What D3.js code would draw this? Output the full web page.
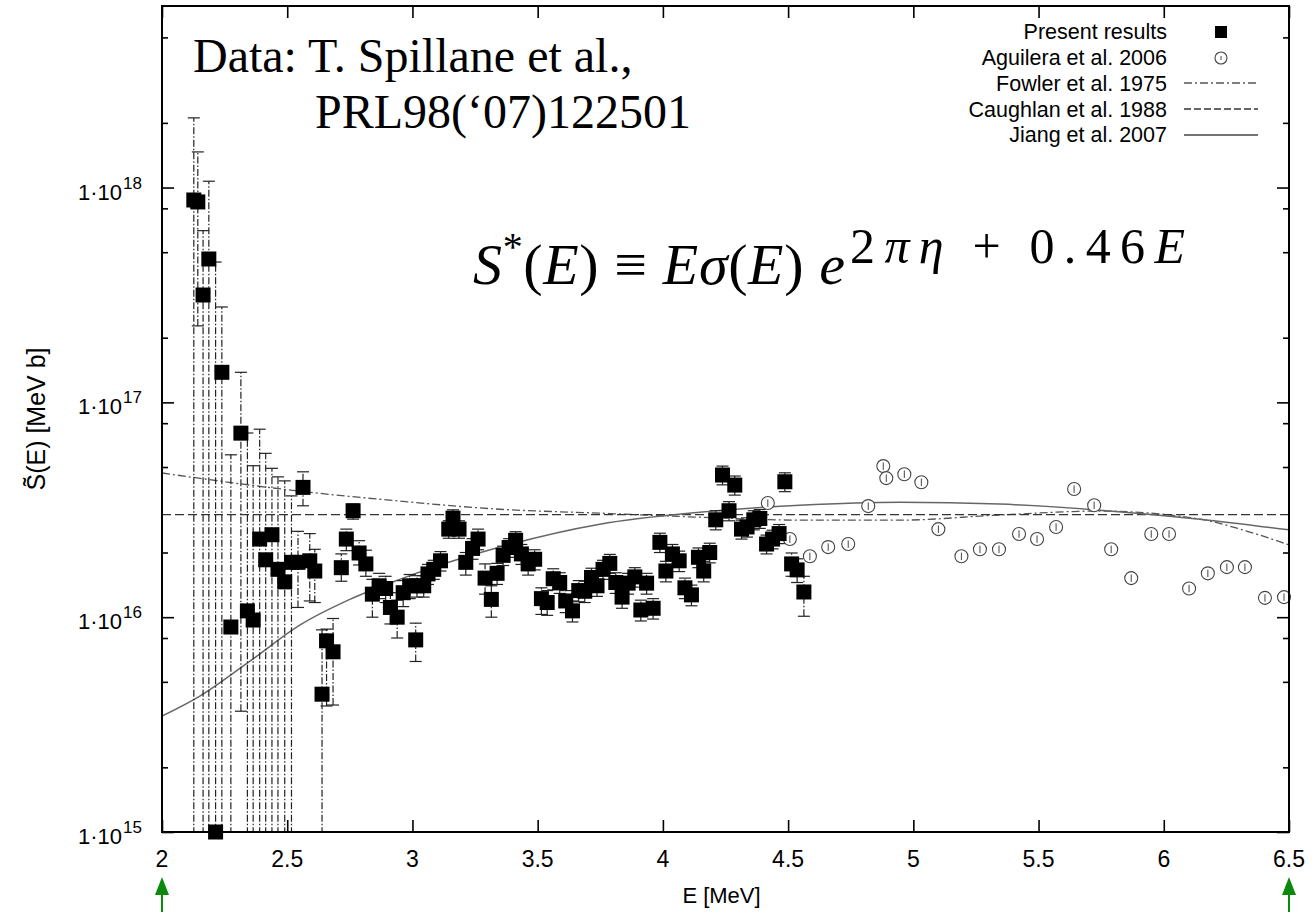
<!DOCTYPE html>
<html><head><meta charset="utf-8">
<script src="https://cdn.jsdelivr.net/npm/d3@7"></script>
<style>body{margin:0;background:#fff} svg{display:block}</style>
</head><body>
<svg id="chart" width="1314" height="912"></svg>
<script>
// ---- data (S values in units of 1e16 MeV b) ----
const presentE = [2.127,2.143,2.164,2.187,2.214,2.239,2.275,2.315,2.341,2.364,2.390,2.414,2.439,2.463,2.490,2.517,2.543,2.563,2.590,2.610,
  2.639,2.657,2.683,2.716,2.736,2.763,2.787,2.814,2.840,2.867,2.893,2.912,2.939,2.963,2.989,3.013,3.018,3.045,3.062,3.085,
  3.112,3.145,3.162,3.186,3.213,3.240,3.262,3.290,3.315,3.338,3.362,3.386,3.412,3.435,3.462,3.488,3.515,3.538,3.562,3.588,
  3.612,3.639,3.664,3.688,3.715,3.737,3.761,3.788,3.812,3.837,3.861,3.888,3.912,3.935,3.961,3.988,4.012,4.038,4.065,4.088,
  4.114,4.142,4.163,4.187,4.211,4.238,4.264,4.287,4.314,4.336,4.363,4.387,4.414,4.438,4.464,4.487,4.514,4.536,4.563];
const presentS = [87.5,85.7,31.6,46.5,0.10,13.8,0.90,7.19,1.07,0.97,2.31,1.85,2.42,1.67,1.46,1.80,1.80,4.02,1.83,1.64,
  0.438,0.776,0.69,1.70,2.31,3.13,1.99,1.77,1.28,1.40,1.36,1.11,1.00,1.30,1.40,0.784,1.40,1.40,1.59,1.67,
  1.83,2.57,2.89,2.57,1.80,2.09,2.31,1.52,1.21,1.60,1.94,2.11,2.28,1.97,1.77,1.86,1.22,1.17,1.51,1.45,
  1.19,1.07,1.33,1.32,1.53,1.40,1.67,1.78,1.45,1.24,1.44,1.54,1.08,1.44,1.10,2.23,1.64,1.97,1.83,1.37,
  1.27,1.90,1.64,2.00,2.84,4.59,3.13,4.12,2.57,2.63,2.84,2.88,2.19,2.31,2.45,4.27,1.77,1.66,1.31];
const presentLo = [0.05,22.7,0.05,0.05,0.05,0.05,0.05,0.365,0.05,0.05,0.05,0.05,0.05,0.05,0.05,0.05,1.11,3.30,1.19,1.17,
  0.05,0.386,0.39,1.47,2.04,2.86,1.75,1.55,1.00,1.22,1.17,0.93,0.80,1.12,1.22,0.622,1.24,1.24,1.42,1.50,
  1.64,2.33,2.62,2.33,1.57,1.86,2.06,1.28,1.00,1.42,1.74,1.90,2.06,1.76,1.57,1.66,1.03,1.02,1.34,1.29,
  1.05,0.95,1.18,1.17,1.37,1.25,1.50,1.60,1.29,1.10,1.28,1.38,0.96,1.28,0.98,2.00,1.46,1.76,1.63,1.22,
  1.13,1.70,1.46,1.79,2.55,4.13,2.81,3.70,2.31,2.36,2.55,2.59,1.97,2.08,2.20,3.84,1.55,1.45,1.01];
const presentHi = [211,146.5,63,107,45,27.8,5.7,13.8,7.2,5.07,7.5,5.79,4.93,4.5,4.31,3.67,2.51,4.75,2.45,2.07,
  0.873,0.88,0.986,1.97,2.57,3.36,2.27,2.05,1.50,1.60,1.55,1.30,1.20,1.48,1.58,0.938,1.56,1.56,1.76,1.84,
  2.02,2.81,3.16,2.81,2.00,2.32,2.57,1.77,1.40,1.78,2.14,2.32,2.50,2.18,1.97,2.06,1.37,1.33,1.68,1.61,
  1.33,1.19,1.48,1.47,1.69,1.55,1.84,1.96,1.61,1.38,1.60,1.70,1.20,1.60,1.22,2.46,1.82,2.18,2.03,1.52,
  1.41,2.10,1.82,2.21,3.13,5.05,3.45,4.54,2.83,2.90,3.13,3.17,2.41,2.54,2.70,4.70,1.99,1.87,1.55];

const aguileraE = [4.419,4.507,4.587,4.660,4.740,4.820,4.880,4.892,4.964,5.032,5.100,5.192,5.266,5.342,5.422,5.494,5.570,5.642,5.722,5.790,
  5.870,5.950,6.021,6.101,6.176,6.252,6.324,6.404,6.480];
const aguileraS = [3.40,2.31,1.92,2.12,2.19,3.29,5.05,4.44,4.63,4.25,2.57,1.92,2.07,2.07,2.44,2.31,2.63,3.95,3.32,2.07,
  1.52,2.44,2.44,1.36,1.60,1.71,1.71,1.23,1.24];

const fowlerE = [2.0,2.55,2.949,3.349,3.748,4.147,4.547,4.946,5.345,5.745,6.144,6.344,6.5];
const fowlerS = [4.69,3.86,3.47,3.18,3.05,2.92,2.83,2.83,2.99,3.12,2.86,2.49,2.17];
const caughlanE = [2.0,6.5];
const caughlanS = [3.0,3.0];
const jiangE = [2.0,2.151,2.351,2.55,2.75,2.949,3.349,3.748,4.147,4.547,4.946,5.345,5.745,6.144,6.5];
const jiangS = [0.346,0.429,0.624,0.918,1.21,1.50,2.12,2.71,3.08,3.32,3.43,3.36,3.15,2.86,2.55];

const xTicks = [2,2.5,3,3.5,4,4.5,5,5.5,6,6.5];
const xTickLabels = ["2","2.5","3","3.5","4","4.5","5","5.5","6","6.5"];
const yMajor = [0.1,1,10,100];
const yExponents = ["15","16","17","18"];
const yMinor = [0.2,0.5,0.8,2,5,8,20,50,80,200,500];
const legendLabels = ["Present results","Aguilera et al. 2006","Fowler et al. 1975","Caughlan et al. 1988","Jiang et al. 2007"];

// ---- drawing ----
const svg = d3.select("#chart");
const L=162, R=1289, T=6, B=832;
const x = d3.scaleLinear().domain([2,6.5]).range([L,R]);
const y = d3.scaleLog().domain([0.1,700]).range([B,T]);
const sans = "'Liberation Sans', Arial, sans-serif";
const serif = "'Liberation Serif', 'Times New Roman', serif";

svg.append("defs").append("clipPath").attr("id","clip")
  .append("rect").attr("x",L).attr("y",T).attr("width",R-L).attr("height",B-T);

// axes ticks (inward)
const gx = svg.append("g").attr("transform",`translate(0,${B})`)
  .call(d3.axisBottom(x).tickValues(xTicks).tickSizeInner(-12).tickSizeOuter(0).tickFormat(""));
const gxt = svg.append("g").attr("transform",`translate(0,${T})`)
  .call(d3.axisTop(x).tickValues(xTicks).tickSizeInner(-12).tickSizeOuter(0).tickFormat(""));
const gy = svg.append("g").attr("transform",`translate(${L},0)`)
  .call(d3.axisLeft(y).tickValues(yMajor).tickSizeInner(-12).tickSizeOuter(0).tickFormat(""));
const gym = svg.append("g").attr("transform",`translate(${L},0)`)
  .call(d3.axisLeft(y).tickValues(yMinor).tickSizeInner(-6).tickSizeOuter(0).tickFormat(""));
const gyr = svg.append("g").attr("transform",`translate(${R},0)`)
  .call(d3.axisRight(y).tickValues(yMajor).tickSizeInner(-12).tickSizeOuter(0).tickFormat(""));
const gyrm = svg.append("g").attr("transform",`translate(${R},0)`)
  .call(d3.axisRight(y).tickValues(yMinor).tickSizeInner(-6).tickSizeOuter(0).tickFormat(""));
[gx,gxt,gy,gym,gyr,gyrm].forEach(g=>{g.select(".domain").remove(); g.selectAll("line").attr("stroke","#000").attr("stroke-width",1.6);});

// tick labels
svg.append("g").selectAll("text").data(xTicks).join("text")
  .attr("x",d=>x(d)).attr("y",867).attr("text-anchor","middle")
  .attr("font-family",sans).attr("font-size",23).text((d,i)=>xTickLabels[i]);
svg.append("g").selectAll("text").data(yMajor).join("text")
  .attr("x",122).attr("y",d=>y(d)+12).attr("text-anchor","end")
  .attr("font-family",sans).attr("font-size",22).text("1·10");
svg.append("g").selectAll("text").data(yMajor).join("text")
  .attr("x",123).attr("y",d=>y(d)+1).attr("text-anchor","start")
  .attr("font-family",sans).attr("font-size",17).text((d,i)=>yExponents[i]);

// axis titles
svg.append("text").attr("x",(L+R)/2 - 4).attr("y",903).attr("text-anchor","middle")
  .attr("font-family",sans).attr("font-size",22).text("E [MeV]");
svg.append("text").attr("transform",`translate(45,${(T+B)/2}) rotate(-90)`).attr("text-anchor","middle")
  .attr("font-family",sans).attr("font-size",25).text("S\u0303(E) [MeV b]");

// curves
const plot = svg.append("g").attr("clip-path","url(#clip)");
const line = d3.line().x(d=>x(d[0])).y(d=>y(d[1])).curve(d3.curveMonotoneX);
plot.append("path").datum(fowlerE.map((e,i)=>[e,fowlerS[i]])).attr("d",line)
  .attr("fill","none").attr("stroke","#555").attr("stroke-width",1.3).attr("stroke-dasharray","8,3,2,3");
plot.append("path").datum(caughlanE.map((e,i)=>[e,caughlanS[i]])).attr("d",line)
  .attr("fill","none").attr("stroke","#333").attr("stroke-width",1.3).attr("stroke-dasharray","9,4");
plot.append("path").datum(jiangE.map((e,i)=>[e,jiangS[i]])).attr("d",line)
  .attr("fill","none").attr("stroke","#666").attr("stroke-width",1.5);

// error bars for present results
const pres = presentE.map((e,i)=>({e,s:presentS[i],lo:presentLo[i],hi:presentHi[i]}));
const eb = plot.append("g").attr("stroke","#222").attr("stroke-width",1.2);
eb.selectAll("line.v").data(pres).join("line").attr("class","v")
  .attr("x1",d=>x(d.e)).attr("x2",d=>x(d.e)).attr("y1",d=>y(d.lo)).attr("y2",d=>y(d.hi))
  .attr("stroke-dasharray","7,2,1.5,2");
eb.selectAll("line.hc").data(pres).join("line").attr("class","hc")
  .attr("x1",d=>x(d.e)-6).attr("x2",d=>x(d.e)+6).attr("y1",d=>y(d.hi)).attr("y2",d=>y(d.hi));
eb.selectAll("line.lc").data(pres.filter(d=>d.lo>0.1)).join("line").attr("class","lc")
  .attr("x1",d=>x(d.e)-6).attr("x2",d=>x(d.e)+6).attr("y1",d=>y(d.lo)).attr("y2",d=>y(d.lo));

// aguilera circles
const ag = aguileraE.map((e,i)=>({e,s:aguileraS[i]}));
const agG = svg.append("g");
agG.selectAll("circle").data(ag).join("circle")
  .attr("cx",d=>x(d.e)).attr("cy",d=>y(d.s)).attr("r",6.5)
  .attr("fill","#fff").attr("stroke","#444").attr("stroke-width",1.1);
agG.selectAll("line").data(ag).join("line")
  .attr("x1",d=>x(d.e)).attr("x2",d=>x(d.e)).attr("y1",d=>y(d.s*0.96)).attr("y2",d=>y(d.s*1.04))
  .attr("stroke","#444").attr("stroke-width",1);

// present squares
svg.append("g").selectAll("rect").data(pres).join("rect")
  .attr("x",d=>x(d.e)-7.5).attr("y",d=>y(d.s)-7.5).attr("width",15).attr("height",15).attr("fill","#000");

// frame
svg.append("rect").attr("x",L).attr("y",T).attr("width",R-L).attr("height",B-T)
  .attr("fill","none").attr("stroke","#000").attr("stroke-width",2);

// legend
const lgY = [39,65,91,117,142];
const lg = svg.append("g");
lg.selectAll("text").data(legendLabels).join("text")
  .attr("x",1167).attr("y",(d,i)=>lgY[i]).attr("text-anchor","end")
  .attr("font-family",sans).attr("font-size",21.5).text(d=>d);
lg.append("rect").attr("x",1221-6).attr("y",lgY[0]-7-6).attr("width",12).attr("height",12).attr("fill","#000");
lg.append("circle").attr("cx",1221).attr("cy",lgY[1]-7).attr("r",6).attr("fill","#fff").attr("stroke","#444").attr("stroke-width",1.1);
lg.append("line").attr("x1",1221).attr("x2",1221).attr("y1",lgY[1]-9).attr("y2",lgY[1]-5).attr("stroke","#444");
lg.append("line").attr("x1",1184).attr("x2",1257).attr("y1",lgY[2]-8).attr("y2",lgY[2]-8)
  .attr("stroke","#555").attr("stroke-width",1.3).attr("stroke-dasharray","8,3,2,3");
lg.append("line").attr("x1",1184).attr("x2",1258).attr("y1",lgY[3]-8).attr("y2",lgY[3]-8)
  .attr("stroke","#333").attr("stroke-width",1.3).attr("stroke-dasharray","7,3");
lg.append("line").attr("x1",1184).attr("x2",1258).attr("y1",lgY[4]-7).attr("y2",lgY[4]-7)
  .attr("stroke","#444").attr("stroke-width",1.3);

// annotations
svg.append("text").attr("x",193).attr("y",72).attr("font-family",serif).attr("font-size",48)
  .text("Data: T. Spillane et al.,");
svg.append("text").attr("x",315).attr("y",128).attr("font-family",serif).attr("font-size",48)
  .text("PRL98(\u201807)122501");

// formula: main part
const f = svg.append("text").attr("x",473).attr("y",284).attr("font-family",serif).attr("font-size",58)
  .attr("textLength",372).attr("lengthAdjust","spacing");
f.append("tspan").attr("font-style","italic").text("S");
f.append("tspan").attr("font-size",40).attr("dy",-24).text("*");
f.append("tspan").attr("dy",24).text("(");
f.append("tspan").attr("font-style","italic").text("E");
f.append("tspan").text(") \u2261 ");
f.append("tspan").attr("font-style","italic").text("E\u03C3");
f.append("tspan").text("(");
f.append("tspan").attr("font-style","italic").text("E");
f.append("tspan").text(") ");
f.append("tspan").attr("font-style","italic").text("e");
// formula: exponent
const fe = svg.append("text").attr("x",850).attr("y",263).attr("font-family",serif).attr("font-size",50)
  .attr("textLength",335).attr("lengthAdjust","spacing");
fe.append("tspan").text("2");
fe.append("tspan").attr("font-style","italic").text("\u03C0\u03B7");
fe.append("tspan").text("\u2009+\u20090.46");
fe.append("tspan").attr("font-style","italic").text("E");

// green arrows at the axis limits
const arr = svg.append("g").attr("stroke","#0a8a0a").attr("fill","#0a8a0a");
[2,6.5].forEach(v=>{
  const xx = x(v);
  arr.append("line").attr("x1",xx).attr("x2",xx).attr("y1",912).attr("y2",886).attr("stroke-width",2);
  arr.append("path").attr("d",`M${xx},877 L${xx-7},895 L${xx+7},895 Z`).attr("stroke","none");
});
</script>
</body></html>
